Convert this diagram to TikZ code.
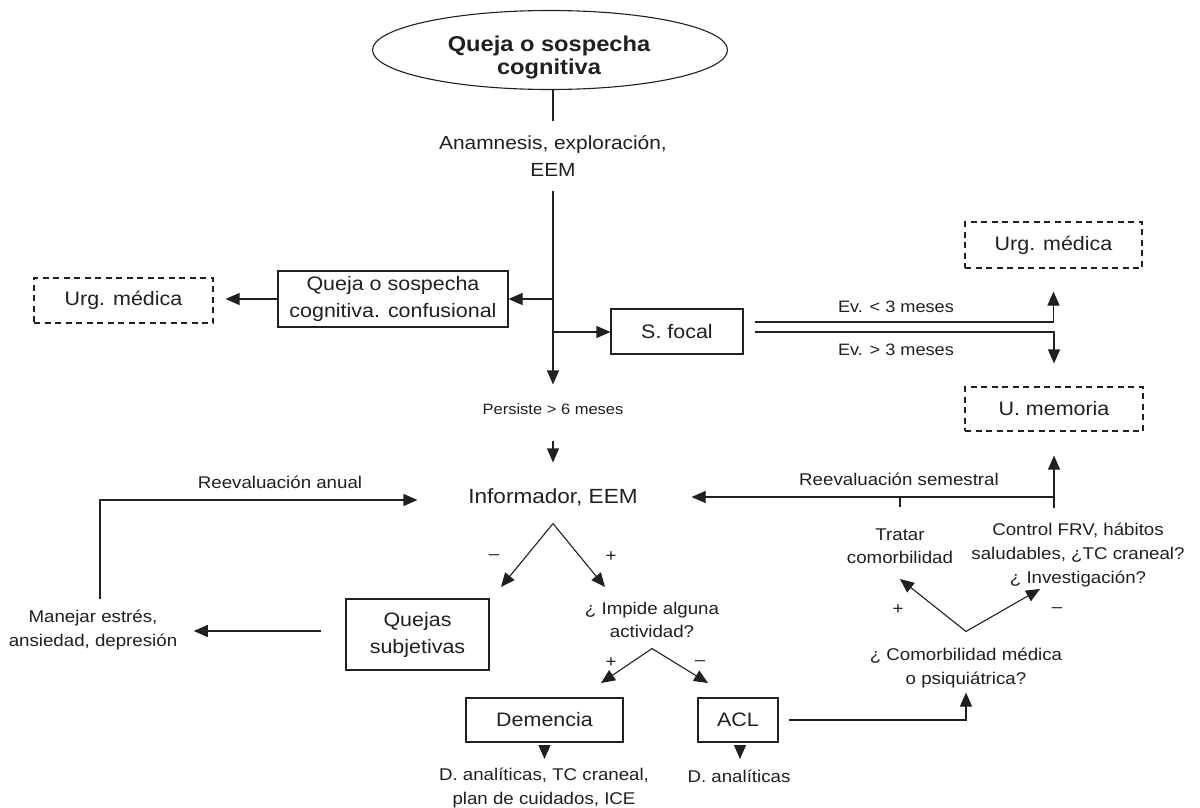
\documentclass[tikz,border=0pt]{standalone}
\usepackage{fontspec}
\setmainfont{Liberation Sans}[FakeStretch=1.1]
\usetikzlibrary{arrows.meta,shapes.geometric}
\definecolor{ink}{RGB}{35,31,32}
\newcommand\ftitle{\fontsize{21.5}{23}\bfseries\selectfont}
\newcommand\fan{\fontsize{19}{27}\selectfont}
\newcommand\finf{\fontsize{20.5}{24}\selectfont}
\newcommand\fps{\fontsize{15}{18}\selectfont}
\newcommand\fbx{\fontsize{19.5}{27}\selectfont}
\newcommand\flb{\fontsize{17}{23.5}\selectfont}
\newcommand\fev{\fontsize{16.5}{20}\selectfont}
\begin{document}
\begin{tikzpicture}[x=1pt,y=-1pt, color=ink, line width=1.1pt,
  arr/.style={-{Triangle[length=14pt,width=12pt]}},
  box/.style={draw, inner sep=0pt, align=center, font=\fbx},
  dbox/.style={box, dash pattern=on 6pt off 4.5pt},
  lbl/.style={inner sep=0pt, align=center, font=\flb},
  ell/.style={draw, ellipse, inner sep=0pt}]
\fill[white] (0,0) rectangle (1200,808);
\useasboundingbox (0,0) rectangle (1200,808);

% top
\node[ell, minimum width=355pt, minimum height=79pt] (title) at (550,50) {};
\node[inner sep=0pt, align=center, font=\ftitle] (titletext) at (549,57) {Queja o sospecha\\cognitiva};
\node[lbl, font=\fan, minimum height=68pt] (anam) at (553,156) {Anamnesis, exploración,\\EEM};
\draw (title.south -| anam.north) -- (anam.north);
\node[lbl, font=\fps, minimum height=48pt] (persist) at (553,409) {Persiste > 6 meses};
\draw[arr] (anam.south) -- (persist.north);
\coordinate (jl) at (553,299);
\coordinate (jr) at (553,332);

% left branch
\node[box, minimum width=230pt, minimum height=56pt] (queja) at (393,299) {Queja o sospecha\\cognitiva. confusional};
\node[dbox, minimum width=179pt, minimum height=45pt] (urg1) at (123.5,300.5) {Urg. médica};
\draw[arr] (jl) -- (queja.east);
\draw[arr, shorten >=12pt] (queja.west) -- (queja.west -| urg1.east);

% right branch
\node[box, minimum width=132pt, minimum height=45pt] (sfocal) at (677,331.5) {S. focal};
\draw[arr] (jr) -- (jr -| sfocal.west);
\node[dbox, minimum width=177pt, minimum height=46pt] (urg2) at (1053.5,245) {Urg. médica};
\node[dbox, minimum width=178pt, minimum height=44pt] (umem) at (1054,409) {U. memoria};
\draw[arr, shorten >=23pt] ([xshift=11pt,yshift=9.5pt]sfocal.east) -| (urg2.south);
\draw[arr, shorten >=23pt] ([xshift=11pt,yshift=-0.5pt]sfocal.east) -| (umem.north);
\node[inner sep=0pt, font=\fev] (ev1) at (896,307) {Ev. < 3 meses};
\node[inner sep=0pt, font=\fev] (ev2) at (896,350) {Ev. > 3 meses};

% informador
\node[lbl, font=\finf, minimum width=270pt, minimum height=52pt] (inf) at (553,497) {Informador, EEM};
\draw[arr, shorten <=7pt, shorten >=8pt] (persist.south) -- (inf.north);

% reevaluacion anual
\node[lbl, minimum height=60pt] (manejar) at (93,630) {Manejar estrés,\\ansiedad, depresión};
\draw[arr] ([xshift=7pt]manejar.north) |- ([yshift=-3pt]inf.west);
\node[lbl] (ranual) at (280,482) {Reevaluación anual};

% first V
\coordinate (t1l) at (501,587);
\coordinate (t1r) at (605,587);
\draw[arr] (inf.south) -- (t1l);
\draw[arr] (inf.south) -- (t1r);
\node[lbl] (m1) at (494,557) {–};
\node[lbl] (p1) at (611,557) {+};

\node[box, minimum width=143pt, minimum height=71pt] (quejas) at (417.5,634.5) {Quejas\\subjetivas};
\draw[arr, shorten <=24pt, shorten >=16pt] ([yshift=3.5pt]quejas.west) -- ([yshift=3.5pt]quejas.west -| manejar.east);

\node[lbl, minimum height=56pt] (impide) at (652,620) {¿ Impide alguna\\actividad?};
\coordinate (t2l) at (601,683);
\coordinate (t2r) at (708,683);
\draw[arr] (impide.south) -- (t2l);
\draw[arr] (impide.south) -- (t2r);
\node[lbl] (p2) at (611,663) {+};
\node[lbl] (m2) at (700,663) {–};

\node[box, minimum width=157pt, minimum height=44pt] (dem) at (544.5,720) {Demencia};
\node[box, minimum width=80pt, minimum height=44pt] (acl) at (738,720) {ACL};
\coordinate (dtip) at (544.5,759);
\coordinate (atip) at (740,759);
\draw[arr, shorten <=5pt] (dem.south) -- (dtip);
\draw[arr, shorten <=5pt] ([xshift=2pt]acl.south) -- (atip);
\node[lbl] (danal1) at (544,788) {D. analíticas, TC craneal,\\plan de cuidados, ICE};
\node[lbl] (danal2) at (739,776) {D. analíticas};

% comorbilidad
\node[lbl, minimum height=72pt] (comorb) at (966,668) {¿ Comorbilidad médica\\o psiquiátrica?};
\draw[arr, shorten <=10pt, shorten >=-12pt] (acl.east) -| (comorb.south);
\coordinate (t3l) at (900,579);
\coordinate (t3r) at (1040,589);
\draw[arr] (comorb.north) -- (t3l);
\draw[arr] (comorb.north) -- (t3r);
\node[lbl] (p3) at (898,610) {+};
\node[lbl] (m3) at (1057,610) {–};

\node[lbl, minimum height=76pt] (tratar) at (900,546) {Tratar\\comorbilidad};
\node[lbl, font=\fontsize{17}{24}\selectfont, minimum height=92pt] (control) at (1078,555) {Control FRV, hábitos\\saludables, ¿TC craneal?\\¿ Investigación?};
\draw (tratar.north) -- (tratar.north |- inf.east);
\draw[arr, shorten >=24pt] (control.north -| umem.south) -- (umem.south);
\draw[arr, shorten >=3pt] (inf.east -| umem.south) -- (inf.east);
\node[lbl] (rsem) at (899,479) {Reevaluación semestral};
\end{tikzpicture}
\end{document}
